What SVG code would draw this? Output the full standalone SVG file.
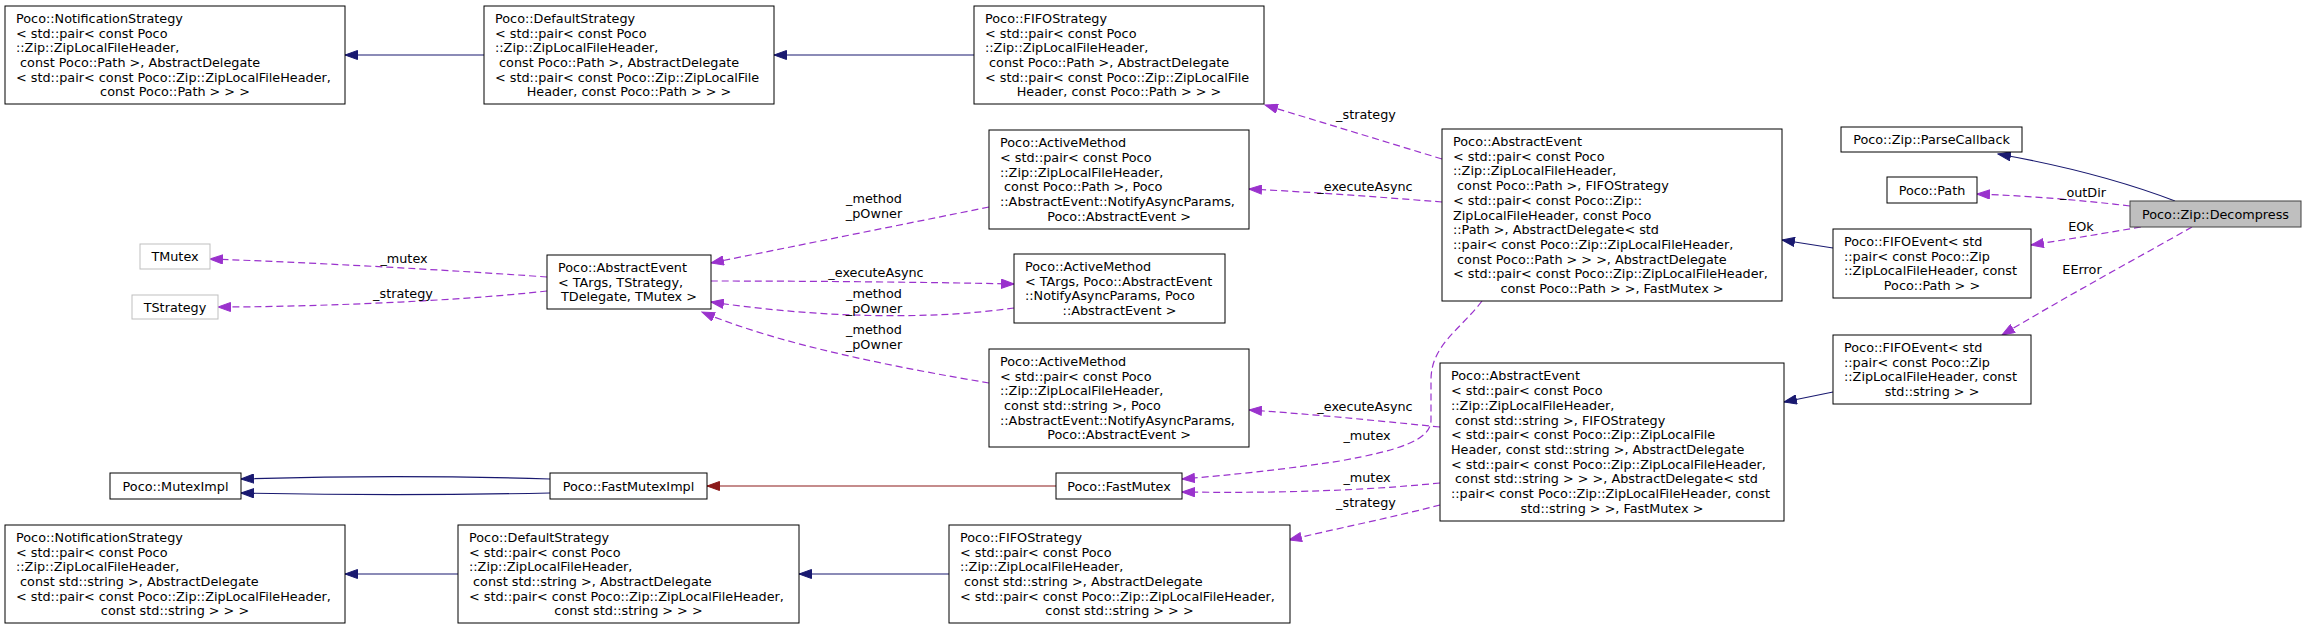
<svg xmlns="http://www.w3.org/2000/svg" width="2307" height="629" viewBox="0 0 2307 629">
<style>
text{font-family:"DejaVu Sans","Liberation Sans",sans-serif;font-size:12.8px;fill:#000}
.c{text-anchor:middle}
.nb{fill:#fff;stroke:#000;stroke-width:1}
.ng{fill:#fff;stroke:#bfbfbf;stroke-width:1}
.nc{fill:#bfbfbf;stroke:#404040;stroke-width:1}
.inh{fill:none;stroke:#191970;stroke-width:1.2;marker-end:url(#mb)}
.prv{fill:none;stroke:#8b1a1a;stroke-width:1.2;marker-end:url(#mr)}
.use{fill:none;stroke:#9a32cd;stroke-width:1.2;stroke-dasharray:7,4;marker-end:url(#mp)}
</style>
<defs>
<marker id="mb" markerUnits="userSpaceOnUse" markerWidth="14" markerHeight="10" refX="13" refY="5" orient="auto" viewBox="0 0 14 10"><path d="M0.5,0.5 L13,5 L0.5,9.5z" fill="#191970" stroke="#191970" stroke-dasharray="none"/></marker>
<marker id="mr" markerUnits="userSpaceOnUse" markerWidth="14" markerHeight="10" refX="13" refY="5" orient="auto" viewBox="0 0 14 10"><path d="M0.5,0.5 L13,5 L0.5,9.5z" fill="#8b1a1a" stroke="#8b1a1a" stroke-dasharray="none"/></marker>
<marker id="mp" markerUnits="userSpaceOnUse" markerWidth="14" markerHeight="10" refX="13" refY="5" orient="auto" viewBox="0 0 14 10"><path d="M0.5,0.5 L13,5 L0.5,9.5z" fill="#9a32cd" stroke="#9a32cd" stroke-dasharray="none"/></marker>
</defs>
<rect width="2307" height="629" fill="#fff"/>
<g id="edges">
<path class="inh" d="M484,55 H345"/>
<path class="inh" d="M974,55 H774"/>
<path class="prv" d="M1056,486 H707"/>
<path class="inh" d="M550,479 C450,476 340,476 241,479"/>
<path class="inh" d="M550,493 C450,495 340,495 241,493"/>
<path class="inh" d="M458,574 H345"/>
<path class="inh" d="M949,574 H799"/>
<path class="inh" d="M1833,248 L1782,240"/>
<path class="inh" d="M1833,392 L1784,402"/>
<path class="inh" d="M2175,201 C2120,180 2060,165 1998,154"/>
<path class="use" d="M547,277 C450,270 300,262 210,259"/>
<path class="use" d="M547,291 C450,302 300,307 218,307"/>
<path class="use" d="M989,207 C900,225 800,245 711,263"/>
<path class="use" d="M711,281 C800,281 920,282 1014,284"/>
<path class="use" d="M1014,308 C930,320 820,318 711,302"/>
<path class="use" d="M989,383 C900,368 780,345 702,312"/>
<path class="use" d="M1442,159 L1265,105"/>
<path class="use" d="M1442,202 C1380,197 1310,192 1249,189"/>
<path class="use" d="M1482,301 C1460,330 1431,345 1431,380 L1431,420 C1431,440 1400,450 1340,461 C1280,470 1230,475 1182,479"/>
<path class="use" d="M1440,427 C1370,420 1310,414 1249,410"/>
<path class="use" d="M1440,483 C1350,492 1260,493 1182,492"/>
<path class="use" d="M1440,505 C1390,518 1330,530 1289,540"/>
<path class="use" d="M2130,206 C2080,200 2030,196 1977,194"/>
<path class="use" d="M2141,227 C2100,234 2070,239 2031,245"/>
<path class="use" d="M2192,227 C2130,262 2060,300 2002,335"/>
<text class="c" x="404" y="262.5">_mutex</text>
<text class="c" x="403" y="297.5">_strategy</text>
<text class="c" x="874" y="202.5">_method</text>
<text class="c" x="874" y="217.5">_pOwner</text>
<text class="c" x="876" y="277">_executeAsync</text>
<text class="c" x="874" y="297.5">_method</text>
<text class="c" x="874" y="312.5">_pOwner</text>
<text class="c" x="874" y="333.5">_method</text>
<text class="c" x="874" y="348.5">_pOwner</text>
<text class="c" x="1366" y="118.5">_strategy</text>
<text class="c" x="1365" y="191">_executeAsync</text>
<text class="c" x="1367" y="439.5">_mutex</text>
<text class="c" x="1365" y="411">_executeAsync</text>
<text class="c" x="1367" y="482">_mutex</text>
<text class="c" x="1366" y="507">_strategy</text>
<text class="c" x="2083" y="197">_outDir</text>
<text class="c" x="2081" y="231">EOk</text>
<text class="c" x="2082" y="273.5">EError</text>
</g>
<g id="n1"><rect class="nb" x="5" y="6" width="340" height="98"/>
<text><tspan x="16" y="22.8">Poco::NotificationStrategy</tspan><tspan x="16" y="37.5">&lt; std::pair&lt; const Poco</tspan><tspan x="16" y="52.2">::Zip::ZipLocalFileHeader,</tspan><tspan x="16" y="66.9">&#160;const Poco::Path &gt;, AbstractDelegate</tspan><tspan x="16" y="81.6">&lt; std::pair&lt; const Poco::Zip::ZipLocalFileHeader,</tspan><tspan class="c" x="175" y="96.3">const Poco::Path &gt; &gt; &gt;</tspan></text></g>
<g id="n2"><rect class="nb" x="484" y="6" width="290" height="98"/>
<text><tspan x="495" y="22.8">Poco::DefaultStrategy</tspan><tspan x="495" y="37.5">&lt; std::pair&lt; const Poco</tspan><tspan x="495" y="52.2">::Zip::ZipLocalFileHeader,</tspan><tspan x="495" y="66.9">&#160;const Poco::Path &gt;, AbstractDelegate</tspan><tspan x="495" y="81.6">&lt; std::pair&lt; const Poco::Zip::ZipLocalFile</tspan><tspan class="c" x="629" y="96.3">Header, const Poco::Path &gt; &gt; &gt;</tspan></text></g>
<g id="n3"><rect class="nb" x="974" y="6" width="290" height="98"/>
<text><tspan x="985" y="22.8">Poco::FIFOStrategy</tspan><tspan x="985" y="37.5">&lt; std::pair&lt; const Poco</tspan><tspan x="985" y="52.2">::Zip::ZipLocalFileHeader,</tspan><tspan x="985" y="66.9">&#160;const Poco::Path &gt;, AbstractDelegate</tspan><tspan x="985" y="81.6">&lt; std::pair&lt; const Poco::Zip::ZipLocalFile</tspan><tspan class="c" x="1119" y="96.3">Header, const Poco::Path &gt; &gt; &gt;</tspan></text></g>
<g id="n4"><rect class="nb" x="989" y="130" width="260" height="99"/>
<text><tspan x="1000" y="147.3">Poco::ActiveMethod</tspan><tspan x="1000" y="162">&lt; std::pair&lt; const Poco</tspan><tspan x="1000" y="176.7">::Zip::ZipLocalFileHeader,</tspan><tspan x="1000" y="191.4">&#160;const Poco::Path &gt;, Poco</tspan><tspan x="1000" y="206.1">::AbstractEvent::NotifyAsyncParams,</tspan><tspan class="c" x="1119" y="220.8">Poco::AbstractEvent &gt;</tspan></text></g>
<g id="n5"><rect class="nb" x="547" y="255" width="164" height="54"/>
<text><tspan x="558" y="271.8">Poco::AbstractEvent</tspan><tspan x="558" y="286.5">&lt; TArgs, TStrategy,</tspan><tspan class="c" x="629" y="301.2">TDelegate, TMutex &gt;</tspan></text></g>
<g id="n6"><rect class="ng" x="140" y="244" width="70" height="25"/><text class="c" x="175" y="261">TMutex</text></g>
<g id="n7"><rect class="ng" x="132" y="295" width="86" height="24"/><text class="c" x="175" y="311.5">TStrategy</text></g>
<g id="n8"><rect class="nb" x="1014" y="254" width="211" height="69"/>
<text><tspan x="1025" y="271">Poco::ActiveMethod</tspan><tspan x="1025" y="285.7">&lt; TArgs, Poco::AbstractEvent</tspan><tspan x="1025" y="300.4">::NotifyAsyncParams, Poco</tspan><tspan class="c" x="1119.5" y="315.1">::AbstractEvent &gt;</tspan></text></g>
<g id="n9"><rect class="nb" x="989" y="349" width="260" height="98"/>
<text><tspan x="1000" y="365.8">Poco::ActiveMethod</tspan><tspan x="1000" y="380.5">&lt; std::pair&lt; const Poco</tspan><tspan x="1000" y="395.2">::Zip::ZipLocalFileHeader,</tspan><tspan x="1000" y="409.9">&#160;const std::string &gt;, Poco</tspan><tspan x="1000" y="424.6">::AbstractEvent::NotifyAsyncParams,</tspan><tspan class="c" x="1119" y="439.3">Poco::AbstractEvent &gt;</tspan></text></g>
<g id="n10"><rect class="nb" x="110" y="473" width="131" height="26"/><text class="c" x="175.5" y="490.5">Poco::MutexImpl</text></g>
<g id="n11"><rect class="nb" x="550" y="473" width="157" height="26"/><text class="c" x="628.5" y="490.5">Poco::FastMutexImpl</text></g>
<g id="n12"><rect class="nb" x="1056" y="473" width="126" height="26"/><text class="c" x="1119" y="490.5">Poco::FastMutex</text></g>
<g id="n13"><rect class="nb" x="5" y="525" width="340" height="98"/>
<text><tspan x="16" y="541.8">Poco::NotificationStrategy</tspan><tspan x="16" y="556.5">&lt; std::pair&lt; const Poco</tspan><tspan x="16" y="571.2">::Zip::ZipLocalFileHeader,</tspan><tspan x="16" y="585.9">&#160;const std::string &gt;, AbstractDelegate</tspan><tspan x="16" y="600.6">&lt; std::pair&lt; const Poco::Zip::ZipLocalFileHeader,</tspan><tspan class="c" x="175" y="615.3">const std::string &gt; &gt; &gt;</tspan></text></g>
<g id="n14"><rect class="nb" x="458" y="525" width="341" height="98"/>
<text><tspan x="469" y="541.8">Poco::DefaultStrategy</tspan><tspan x="469" y="556.5">&lt; std::pair&lt; const Poco</tspan><tspan x="469" y="571.2">::Zip::ZipLocalFileHeader,</tspan><tspan x="469" y="585.9">&#160;const std::string &gt;, AbstractDelegate</tspan><tspan x="469" y="600.6">&lt; std::pair&lt; const Poco::Zip::ZipLocalFileHeader,</tspan><tspan class="c" x="628.5" y="615.3">const std::string &gt; &gt; &gt;</tspan></text></g>
<g id="n15"><rect class="nb" x="949" y="525" width="341" height="98"/>
<text><tspan x="960" y="541.8">Poco::FIFOStrategy</tspan><tspan x="960" y="556.5">&lt; std::pair&lt; const Poco</tspan><tspan x="960" y="571.2">::Zip::ZipLocalFileHeader,</tspan><tspan x="960" y="585.9">&#160;const std::string &gt;, AbstractDelegate</tspan><tspan x="960" y="600.6">&lt; std::pair&lt; const Poco::Zip::ZipLocalFileHeader,</tspan><tspan class="c" x="1119.5" y="615.3">const std::string &gt; &gt; &gt;</tspan></text></g>
<g id="n16"><rect class="nb" x="1442" y="129" width="340" height="172"/>
<text><tspan x="1453" y="146">Poco::AbstractEvent</tspan><tspan x="1453" y="160.7">&lt; std::pair&lt; const Poco</tspan><tspan x="1453" y="175.4">::Zip::ZipLocalFileHeader,</tspan><tspan x="1453" y="190.1">&#160;const Poco::Path &gt;, FIFOStrategy</tspan><tspan x="1453" y="204.8">&lt; std::pair&lt; const Poco::Zip::</tspan><tspan x="1453" y="219.5">ZipLocalFileHeader, const Poco</tspan><tspan x="1453" y="234.2">::Path &gt;, AbstractDelegate&lt; std</tspan><tspan x="1453" y="248.9">::pair&lt; const Poco::Zip::ZipLocalFileHeader,</tspan><tspan x="1453" y="263.6">&#160;const Poco::Path &gt; &gt; &gt;, AbstractDelegate</tspan><tspan x="1453" y="278.3">&lt; std::pair&lt; const Poco::Zip::ZipLocalFileHeader,</tspan><tspan class="c" x="1612" y="293">const Poco::Path &gt; &gt;, FastMutex &gt;</tspan></text></g>
<g id="n17"><rect class="nb" x="1440" y="363" width="344" height="158"/>
<text><tspan x="1451" y="380.4">Poco::AbstractEvent</tspan><tspan x="1451" y="395.1">&lt; std::pair&lt; const Poco</tspan><tspan x="1451" y="409.8">::Zip::ZipLocalFileHeader,</tspan><tspan x="1451" y="424.5">&#160;const std::string &gt;, FIFOStrategy</tspan><tspan x="1451" y="439.2">&lt; std::pair&lt; const Poco::Zip::ZipLocalFile</tspan><tspan x="1451" y="453.9">Header, const std::string &gt;, AbstractDelegate</tspan><tspan x="1451" y="468.6">&lt; std::pair&lt; const Poco::Zip::ZipLocalFileHeader,</tspan><tspan x="1451" y="483.3">&#160;const std::string &gt; &gt; &gt;, AbstractDelegate&lt; std</tspan><tspan x="1451" y="498">::pair&lt; const Poco::Zip::ZipLocalFileHeader, const</tspan><tspan class="c" x="1612" y="512.7">std::string &gt; &gt;, FastMutex &gt;</tspan></text></g>
<g id="n18"><rect class="nb" x="1841" y="127" width="181" height="25"/><text class="c" x="1931.5" y="144">Poco::Zip::ParseCallback</text></g>
<g id="n19"><rect class="nb" x="1887" y="177" width="90" height="26"/><text class="c" x="1932" y="194.5">Poco::Path</text></g>
<g id="n20"><rect class="nb" x="1833" y="229" width="198" height="69"/>
<text><tspan x="1844" y="246">Poco::FIFOEvent&lt; std</tspan><tspan x="1844" y="260.7">::pair&lt; const Poco::Zip</tspan><tspan x="1844" y="275.4">::ZipLocalFileHeader, const</tspan><tspan class="c" x="1932" y="290.1">Poco::Path &gt; &gt;</tspan></text></g>
<g id="n21"><rect class="nb" x="1833" y="335" width="198" height="69"/>
<text><tspan x="1844" y="352">Poco::FIFOEvent&lt; std</tspan><tspan x="1844" y="366.7">::pair&lt; const Poco::Zip</tspan><tspan x="1844" y="381.4">::ZipLocalFileHeader, const</tspan><tspan class="c" x="1932" y="396.1">std::string &gt; &gt;</tspan></text></g>
<g id="n22"><rect class="nc" x="2130" y="201" width="171" height="26"/><text class="c" x="2215.5" y="218.5">Poco::Zip::Decompress</text></g>
</svg>
